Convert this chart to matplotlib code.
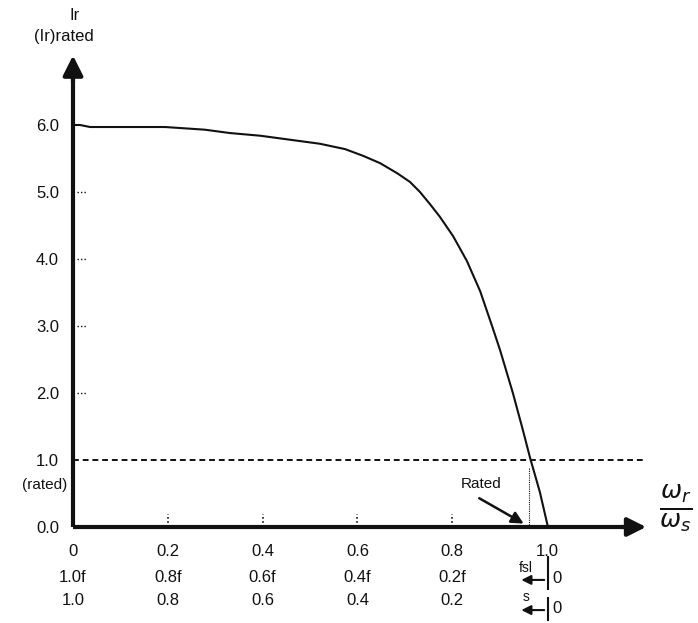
import matplotlib.pyplot as plt

# rotor current (per unit of rated) vs speed ratio wr/ws
speed_ratio = [0.0, 0.015, 0.036, 0.194, 0.278, 0.331, 0.395, 0.458, 0.521, 0.574,
               0.612, 0.648, 0.684, 0.711, 0.732, 0.753, 0.774, 0.802, 0.831, 0.859,
               0.886, 0.901, 0.928, 0.949, 0.964, 0.985, 1.002]
current_ratio = [6.0, 6.0, 5.97, 5.97, 5.93, 5.88, 5.84, 5.78, 5.72, 5.64,
                 5.54, 5.43, 5.28, 5.15, 5.00, 4.82, 4.63, 4.34, 3.97, 3.52,
                 2.96, 2.64, 2.00, 1.45, 1.04, 0.52, 0.0]

y_ticks = [0.0, 1.0, 2.0, 3.0, 4.0, 5.0, 6.0]
y_labels = ['0.0', '1.0', '2.0', '3.0', '4.0', '5.0', '6.0']
x_ticks = [0.0, 0.2, 0.4, 0.6, 0.8, 1.0]
x_labels = ['0', '0.2', '0.4', '0.6', '0.8', '1.0']
freq_labels = ['1.0f', '0.8f', '0.6f', '0.4f', '0.2f']
slip_labels = ['1.0', '0.8', '0.6', '0.4', '0.2']
rated_current = 1.0
rated_speed = 0.962

ink = '#111111'
plt.rcParams['font.family'] = ['Liberation Sans', 'DejaVu Sans']

fig = plt.figure(figsize=(6.98, 6.23), dpi=100)
ax = fig.add_axes([73 / 698, 96 / 623, 474 * 1.2 / 698, 67 * 7 / 623])
ax.set_xlim(0, 1.2)
ax.set_ylim(0, 7)
for s in ax.spines.values():
    s.set_visible(False)

# axes with arrow heads
ax.plot([0, 1.17], [0, 0], color=ink, lw=3, clip_on=False, solid_capstyle='butt')
ax.plot([0, 0], [0, 6.7], color=ink, lw=3, clip_on=False, solid_capstyle='butt')
ax.annotate('', xy=(1.215, 0), xytext=(1.15, 0), annotation_clip=False,
            arrowprops=dict(arrowstyle='-|>', mutation_scale=28, lw=3, color=ink))
ax.annotate('', xy=(0, 7.08), xytext=(0, 6.6), annotation_clip=False,
            arrowprops=dict(arrowstyle='-|>', mutation_scale=30, lw=3, color=ink))

ax.set_yticks(y_ticks)
ax.set_yticklabels(y_labels)
ax.set_xticks(x_ticks)
ax.set_xticklabels(x_labels)
ax.tick_params(axis='y', length=0, pad=10, labelsize=12, labelcolor=ink)
ax.tick_params(axis='x', length=0, pad=12, labelsize=12, labelcolor=ink)

# small dotted tick marks inside the axes
for y in y_ticks[2:6]:
    ax.plot([0.008, 0.03], [y, y], color=ink, lw=1, ls=(0, (1, 1.5)))
for x in x_ticks[1:5]:
    ax.plot([x, x], [0.0, 0.2], color=ink, lw=1.2, ls=(0, (1, 1.5)))

# curve, rated line and rated point
ax.plot(speed_ratio, current_ratio, color=ink, lw=1.5)
ax.plot([0, 1.205], [rated_current, rated_current], color=ink, lw=1.4,
        ls=(0, (3, 2)), clip_on=False)
ax.plot([rated_speed, rated_speed], [0, 0.9], color=ink, lw=0.8, ls=(0, (1, 1)))
ax.text(0.86, 0.64, 'Rated', ha='center', va='center', fontsize=11, color=ink)
ax.annotate('', xy=(0.956, 0.03), xytext=(0.852, 0.45),
            arrowprops=dict(arrowstyle='-|>', mutation_scale=18, lw=1.8, color=ink))

ax.text(-0.013, 0.63, '(rated)', ha='right', va='center', fontsize=11, color=ink)

# axis titles
fig.text(75 / 698, 1 - 15 / 623, 'Ir', ha='center', va='center', fontsize=12, color=ink)
fig.text(64 / 698, 1 - 37 / 623, '(Ir)rated', ha='center', va='center', fontsize=12, color=ink)
fig.text(676 / 698, 1 - 508 / 623, r'$\frac{\omega_r}{\omega_s}$', ha='center', va='center',
         fontsize=26, color=ink)

# frequency and slip rows under the speed axis
for x, f_lab, s_lab in zip(x_ticks, freq_labels, slip_labels):
    ax.text(x, -0.75, f_lab, ha='center', va='center', fontsize=12, color=ink, clip_on=False)
    ax.text(x, -1.10, s_lab, ha='center', va='center', fontsize=12, color=ink, clip_on=False)

for lab, y_lab, y_arr, y_bar in [('fsl', -0.61, -0.79, (-0.45, -0.92)),
                                 ('s', -1.04, -1.24, (-1.06, -1.39))]:
    ax.text(0.955, y_lab, lab, ha='center', va='center', fontsize=10, color=ink)
    ax.annotate('', xy=(0.94, y_arr), xytext=(1.0, y_arr), annotation_clip=False,
                arrowprops=dict(arrowstyle='-|>', mutation_scale=14, lw=1.5, color=ink))
    ax.plot([1.003, 1.003], list(y_bar), color=ink, lw=1.5, clip_on=False)
    ax.text(1.012, y_arr + 0.02, '0', ha='left', va='center', fontsize=12, color=ink)

plt.savefig('out.png', dpi=100)
